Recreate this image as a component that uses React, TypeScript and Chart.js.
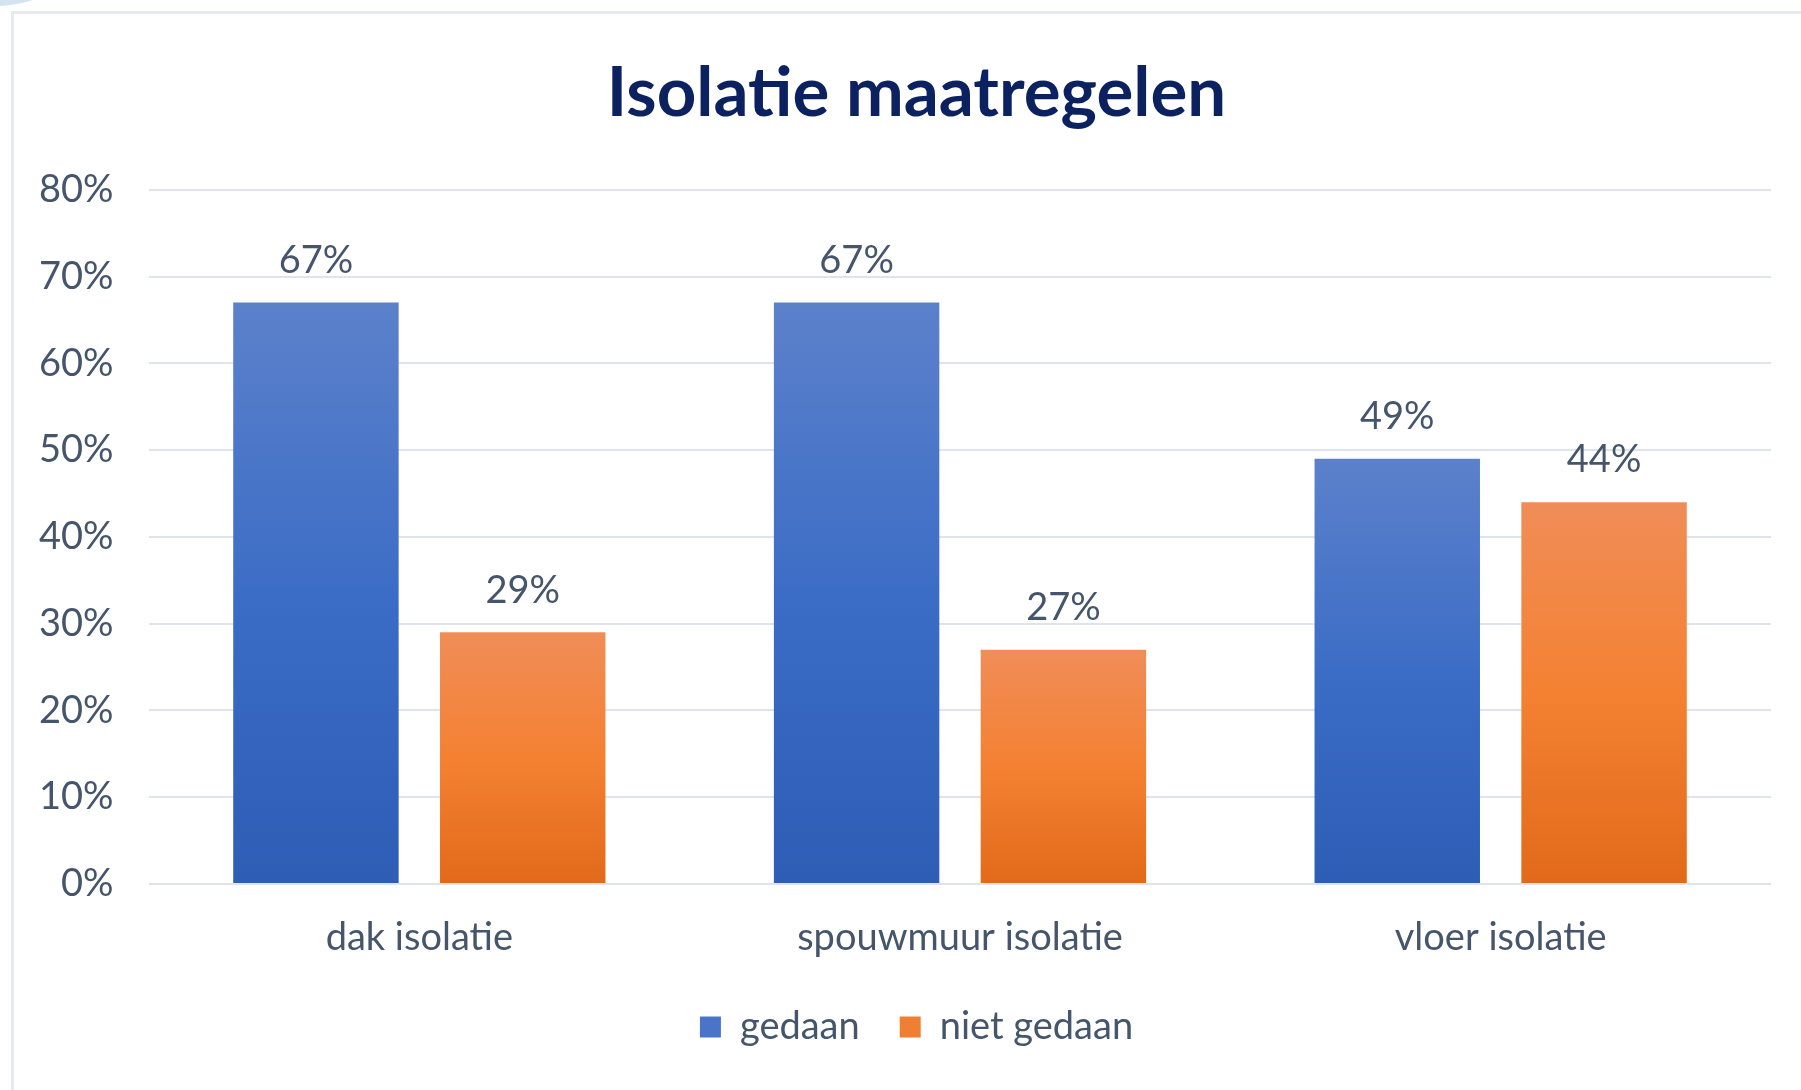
import React, { useEffect, useRef } from "react";
import { Chart, registerables } from "chart.js";

Chart.register(...registerables);

const categories = ["dak isolatie", "spouwmuur isolatie", "vloer isolatie"];
const gedaan = [67, 67, 49];
const nietGedaan = [29, 27, 44];
const seriesNames = ["gedaan", "niet gedaan"];
const yTicks = [0, 10, 20, 30, 40, 50, 60, 70, 80];
const titleText = "Isolatie maatregelen";

const FONT = "Lato, 'Open Sans', sans-serif";
const TEXT = "#45556b";
const GRID = "#dfe4ec";

const blueStops = ["#5c81cb", "#3c6dc6", "#2d5db5"];
const orangeStops = ["#f08d58", "#f48132", "#e2691a"];
const legendColors = ["#4a74c9", "#ef7f33"];

function barGradient(stops: string[]) {
  return (ctx: any) => {
    const chart = ctx.chart;
    const area = chart.chartArea;
    if (!area || ctx.type !== "data") return stops[1];
    const yScale = chart.scales.y;
    const v = ctx.parsed ? ctx.parsed.y : ctx.raw;
    const top = yScale.getPixelForValue(v);
    const bottom = yScale.getPixelForValue(0);
    if (!isFinite(top) || !isFinite(bottom) || top === bottom) return stops[1];
    const g = chart.ctx.createLinearGradient(0, top, 0, bottom);
    g.addColorStop(0, stops[0]);
    g.addColorStop(0.5, stops[1]);
    g.addColorStop(1, stops[2]);
    return g;
  };
}

const valueLabels = {
  id: "valueLabels",
  afterDatasetsDraw(chart: any) {
    const { ctx } = chart;
    ctx.save();
    ctx.font = `38px ${FONT}`;
    ctx.fillStyle = TEXT;
    ctx.textAlign = "center";
    ctx.textBaseline = "middle";
    chart.data.datasets.forEach((ds: any, di: number) => {
      const meta = chart.getDatasetMeta(di);
      meta.data.forEach((bar: any, i: number) => {
        ctx.fillText(`${ds.data[i]}%`, bar.x, bar.y - 42);
      });
    });
    ctx.restore();
  },
};

export default function App() {
  const ref = useRef<HTMLCanvasElement | null>(null);

  useEffect(() => {
    if (!ref.current) return;
    const chart = new Chart(ref.current, {
      type: "bar",
      data: {
        labels: categories,
        datasets: [
          {
            label: seriesNames[0],
            data: gedaan,
            backgroundColor: barGradient(blueStops),
            categoryPercentage: 0.765,
            barPercentage: 0.8,
          },
          {
            label: seriesNames[1],
            data: nietGedaan,
            backgroundColor: barGradient(orangeStops),
            categoryPercentage: 0.765,
            barPercentage: 0.8,
          },
        ],
      },
      options: {
        animation: false,
        responsive: false,
        maintainAspectRatio: false,
        layout: { padding: { left: 62, right: 30, top: 0, bottom: 34 } },
        plugins: {
          title: {
            display: true,
            text: titleText,
            color: "#0c215f",
            font: { family: FONT, size: 69, weight: "bold" },
            padding: { top: 52, bottom: 55 },
          },
          legend: {
            position: "bottom",
            labels: {
              color: TEXT,
              font: { family: FONT, size: 38 },
              boxWidth: 21,
              boxHeight: 21,
              padding: 40,
              generateLabels: () =>
                seriesNames.map((n, i) => ({
                  text: n,
                  fillStyle: legendColors[i],
                  strokeStyle: legendColors[i],
                  lineWidth: 0,
                  hidden: false,
                  datasetIndex: i,
                  fontColor: TEXT,
                })),
            },
          },
          tooltip: { enabled: false },
        },
        scales: {
          x: {
            grid: { display: false, drawTicks: false },
            border: { display: false },
            ticks: {
              color: TEXT,
              font: { family: FONT, size: 38 },
              padding: 31,
            },
            afterFit: (s: any) => {
              s.height = 84;
            },
          },
          y: {
            min: 0,
            max: 80,
            afterBuildTicks: (s: any) => {
              s.ticks = yTicks.map((v) => ({ value: v }));
            },
            grid: { color: GRID, lineWidth: 2, drawTicks: false },
            border: { display: false },
            ticks: {
              color: TEXT,
              font: { family: FONT, size: 38 },
              mirror: true,
              crossAlign: "far",
              padding: -110,
              callback: (v: any) => `${v}%`,
            },
            afterFit: (s: any) => {
              s.width = 87;
            },
          },
        },
      },
      plugins: [valueLabels],
    });
    return () => chart.destroy();
  }, []);

  return (
    <div
      style={{
        position: "absolute",
        left: 0,
        top: 0,
        width: 1801,
        height: 1090,
        overflow: "hidden",
        background: "#ffffff",
      }}
    >
      <div
        style={{
          position: "absolute",
          left: -70,
          top: -60,
          width: 130,
          height: 66,
          borderRadius: "50%",
          background: "#d3e3f1",
        }}
      />
      <div
        style={{
          position: "absolute",
          left: 11,
          top: 11,
          width: 1820,
          height: 1120,
          border: "3px solid #e6eaf0",
          boxSizing: "border-box",
          background: "#ffffff",
        }}
      />
      <canvas
        ref={ref}
        width={1801}
        height={1090}
        style={{ position: "absolute", left: 0, top: 0, width: 1801, height: 1090 }}
      />
    </div>
  );
}
